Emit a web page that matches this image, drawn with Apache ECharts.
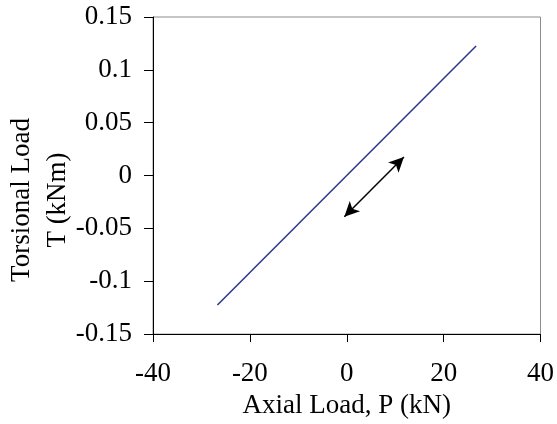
<!DOCTYPE html>
<html>
<head>
<meta charset="utf-8">
<script src="https://cdn.jsdelivr.net/npm/echarts@6/dist/echarts.min.js"></script>
<style>
html,body{margin:0;padding:0;background:#fff;}
#c{width:557px;height:424px;}
</style>
</head>
<body>
<div id="c"></div>
<script>
// Data
var axialLoad = [-26.7, 26.7];          // P (kN)
var torsionalLoad = [-0.1225, 0.1225];  // T (kNm)
var arrowStart = [-0.5, -0.039];
var arrowEnd = [11.8, 0.0175];
var xTicks = [-40, -20, 0, 20, 40];
var yTicks = [-0.15, -0.1, -0.05, 0, 0.05, 0.1, 0.15];
var xTitle = 'Axial Load, P (kN)';
var yTitle = 'Torsional Load\nT (kNm)';

var FONT = 'Liberation Serif, Times New Roman, Times, serif';
var chart = echarts.init(document.getElementById('c'), null, {renderer: 'canvas'});

var lineData = axialLoad.map(function (x, i) { return [x, torsionalLoad[i]]; });

chart.setOption({
  animation: false,
  backgroundColor: '#fff',
  textStyle: {fontFamily: FONT},
  grid: {left: 153, right: 12, top: 17, bottom: 89, show: true, borderColor: '#8c8c8c', borderWidth: 1, backgroundColor: 'transparent'},
  xAxis: {
    type: 'value', min: xTicks[0], max: xTicks[xTicks.length - 1], interval: 20,
    axisLine: {onZero: false, lineStyle: {color: '#000', width: 1}},
    axisTick: {inside: false, length: 8, lineStyle: {color: '#000'}},
    splitLine: {show: false},
    axisLabel: {margin: 26, color: '#000', fontFamily: FONT, fontSize: 27, showMinLabel: true, showMaxLabel: true},
    name: xTitle, nameLocation: 'middle', nameGap: 55,
    nameTextStyle: {color: '#000', fontFamily: FONT, fontSize: 27}
  },
  yAxis: {
    type: 'value', min: yTicks[0], max: yTicks[yTicks.length - 1], interval: 0.05,
    axisLine: {onZero: false, lineStyle: {color: '#000', width: 1}},
    axisTick: {inside: false, length: 9, lineStyle: {color: '#000'}},
    splitLine: {show: false},
    axisLabel: {margin: 21, color: '#000', fontFamily: FONT, fontSize: 27,
      formatter: function (v) { return String(parseFloat(v.toFixed(2))); }}
  },
  graphic: [{
    type: 'text', x: 40, y: 200, rotation: Math.PI / 2,
    style: {text: yTitle, fill: '#000', font: '27px ' + FONT, align: 'center', verticalAlign: 'middle', lineHeight: 36}
  }],
  series: [{
    type: 'line', data: lineData, symbol: 'none',
    lineStyle: {color: '#2E3192', width: 1.5},
    markLine: {
      silent: true, symbol: ['arrow', 'arrow'], symbolSize: [11, 15],
      label: {show: false},
      lineStyle: {color: '#000', width: 1.5, type: 'solid'},
      data: [[{coord: arrowStart}, {coord: arrowEnd}]]
    }
  }]
});
</script>
</body>
</html>
